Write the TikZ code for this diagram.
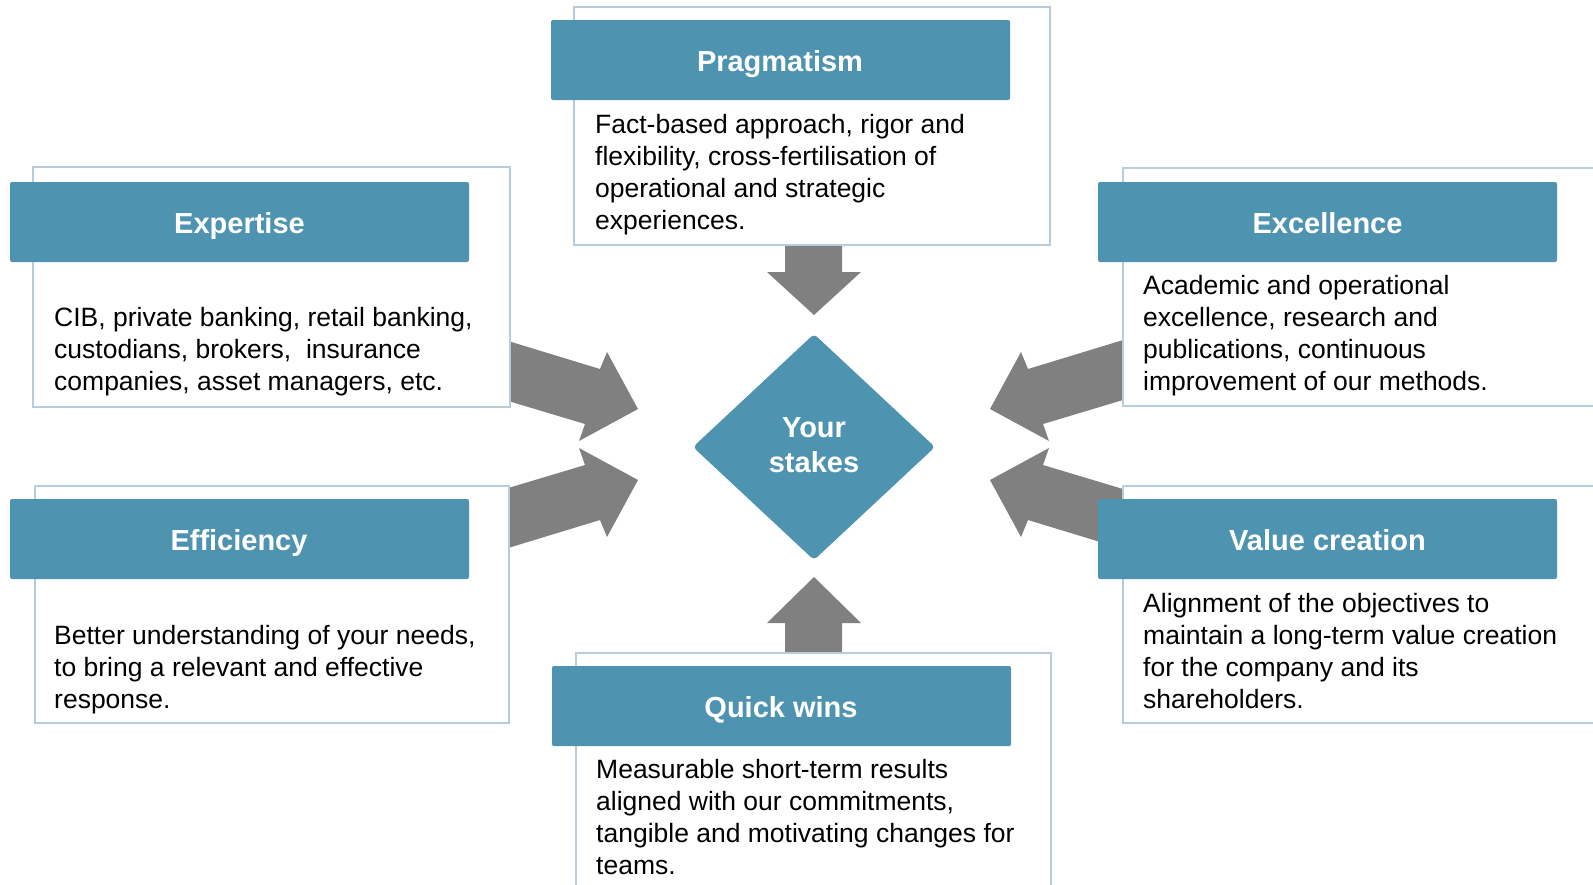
\documentclass[tikz,border=0pt]{standalone}
\usepackage{fontspec}
\setmainfont{Liberation Sans}
\definecolor{hdrblue}{RGB}{78,148,177}
\definecolor{boxline}{RGB}{184,204,222}
\definecolor{arrowgray}{RGB}{128,128,128}
\begin{document}
\begin{tikzpicture}[x=1pt,y=-1pt,
  outerbox/.style={draw=boxline, line width=2.5pt, fill=white, inner sep=0, outer sep=0, anchor=north west},
  header/.style={fill=hdrblue, rounded corners=2pt, inner sep=0, outer sep=0, anchor=north west, minimum width=459pt, minimum height=80pt},
  hdrlabel/.style={text=white, font=\fontsize{29}{35}\selectfont\bfseries, anchor=base, inner sep=0},
  bodytext/.style={font=\fontsize{26.5}{32}\selectfont, align=left, anchor=north west, inner sep=0},
  bigarrow/.style={fill=arrowgray},
]
\useasboundingbox (0,0) rectangle (1593,884);
\clip (0,0) rectangle (1593,884);

% block arrows
\fill[bigarrow] (495,337) -- (600,369) -- (607,352) -- (638,409) -- (579,441) -- (585,424) -- (495,397) -- cycle;
\fill[bigarrow] (495,552) -- (600,520) -- (607,537) -- (638,480) -- (579,448) -- (585,465) -- (495,492) -- cycle;
\fill[bigarrow] (1133,337) -- (1028,369) -- (1021,352) -- (990,409) -- (1049,441) -- (1043,424) -- (1133,397) -- cycle;
\fill[bigarrow] (1133,552) -- (1028,520) -- (1021,537) -- (990,480) -- (1049,448) -- (1043,465) -- (1133,492) -- cycle;
\fill[bigarrow] (785,238) -- (842,238) -- (842,272) -- (861,272) -- (814,315) -- (767,272) -- (785,272) -- cycle;
\fill[bigarrow] (814,577) -- (861,623) -- (842,623) -- (842,660) -- (785,660) -- (785,623) -- (767,623) -- cycle;

% outer boxes
\node[outerbox, minimum width=476pt, minimum height=238pt] (pragbox) at (574,7) {};
\node[outerbox, minimum width=477pt, minimum height=240pt] (expbox) at (33,167) {};
\node[outerbox, minimum width=500pt, minimum height=238pt] (excbox) at (1123,168) {};
\node[outerbox, minimum width=474pt, minimum height=237pt] (effbox) at (35,486) {};
\node[outerbox, minimum width=500pt, minimum height=237pt] (valbox) at (1123,486) {};
\node[outerbox, minimum width=475pt, minimum height=260pt] (qwbox) at (576,653) {};

% headers
\node[header] (praghdr) at (551,20) {};
\node[header] (exphdr) at (10,182) {};
\node[header] (exchdr) at (1098,182) {};
\node[header] (effhdr) at (10,499) {};
\node[header] (valhdr) at (1098,499) {};
\node[header] (qwhdr) at (552,666) {};

\node[hdrlabel] (praglbl) at (780,71) {Pragmatism};
\node[hdrlabel] (explbl) at (239.5,233) {Expertise};
\node[hdrlabel] (exclbl) at (1327.5,233) {Excellence};
\node[hdrlabel] (efflbl) at (239,550) {Efficiency};
\node[hdrlabel] (vallbl) at (1327.5,550) {Value creation};
\node[hdrlabel] (qwlbl) at (781,717) {Quick wins};

% body texts
\node[bodytext] (pragtxt) at (595,133.5-22.4) {\strut Fact-based approach, rigor and\\flexibility, cross-fertilisation of\\operational and strategic\\experiences.};
\node[bodytext] (exptxt) at (54,326.5-22.4) {\strut CIB, private banking, retail banking,\\custodians, brokers,\ \ insurance\\companies, asset managers, etc.};
\node[bodytext] (exctxt) at (1143,294.5-22.4) {\strut Academic and operational\\excellence, research and\\publications, continuous\\improvement of our methods.};
\node[bodytext] (efftxt) at (54,644.5-22.4) {\strut Better understanding of your needs,\\to bring a relevant and effective\\response.};
\node[bodytext] (valtxt) at (1143,612-22.4) {\strut Alignment of the objectives to\\maintain a long-term value creation\\for the company and its\\shareholders.};
\node[bodytext] (qwtxt) at (596,778.5-22.4) {\strut Measurable short-term results\\aligned with our commitments,\\tangible and motivating changes for\\teams.};

% central diamond
\fill[hdrblue, rounded corners=4pt] (693,447) -- (814,334) -- (935,447) -- (814,560) -- cycle;
\node[hdrlabel] (your) at (814,437.5) {Your};
\node[hdrlabel] (stakes) at (814,472.5) {stakes};
\end{tikzpicture}
\end{document}
